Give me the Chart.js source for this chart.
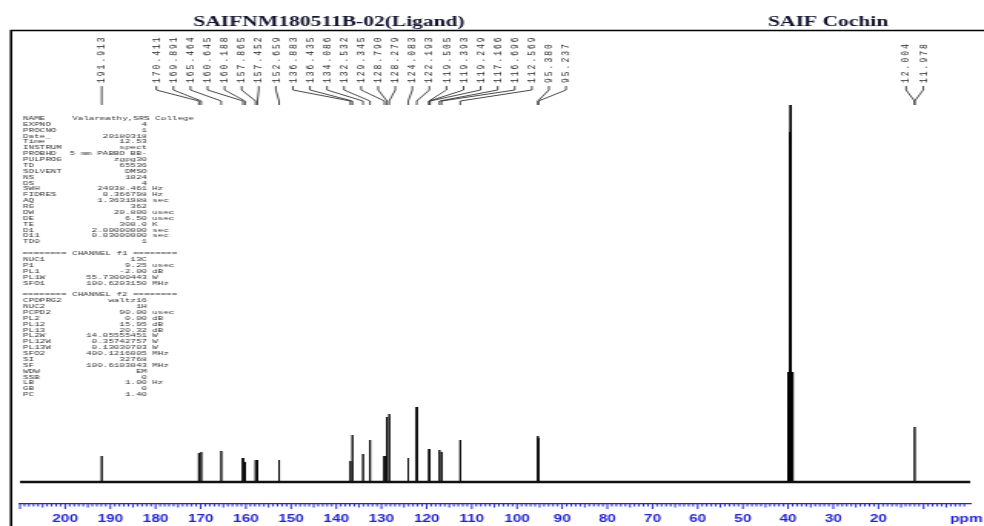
<!DOCTYPE html>
<html>
<head>
<meta charset="utf-8">
<title>SAIFNM180511B-02(Ligand)</title>
<script src="https://cdn.jsdelivr.net/npm/chart.js@4.4.1/dist/chart.umd.min.js"></script>
<style>
  html, body { margin: 0; padding: 0; background: #fff; }
  #spectrum { display: block; }
</style>
</head>
<body>
<!-- the plot is drawn at 640 wide and stretched to 984 like the original print -->
<canvas id="spectrum" width="640" height="526" style="width:984px;height:526px"></canvas>
<script>
// 13C peaks (ppm) and their heights above the baseline
const peakShifts = [191.913, 170.411, 169.891, 165.464, 160.645, 160.188, 157.865, 157.452, 152.659,
  136.883, 136.435, 134.086, 132.532, 129.345, 128.790, 128.279, 124.083, 122.193,
  119.505, 119.393, 119.249, 117.166, 116.696, 112.569, 95.380, 95.237, 12.004, 11.978];
const peakHeights = [26, 29, 30, 31, 24, 20, 22, 22, 22,
  21, 47, 28, 42, 26, 65, 68, 24, 75,
  33, 33, 32, 32, 30, 42, 46, 44, 55, 53];

// DMSO-d6 septet, not labelled
const solventShifts = [40.14, 39.93, 39.72, 39.51, 39.30, 39.09, 38.88];
const solventHeights = [38, 110, 350, 377, 350, 110, 38];

const axisLabels = [200, 190, 180, 170, 160, 150, 140, 130, 120, 110, 100, 90, 80, 70, 60, 50, 40, 30, 20];

const acqParams = [
  ['EXPNO', '4', ''],
  ['PROCNO', '1', ''],
  ['Date_', '20180318', ''],
  ['Time', '12.53', ''],
  ['INSTRUM', 'spect', ''],
  ['PROBHD', '5 mm PABBO BB-', ''],
  ['PULPROG', 'zgpg30', ''],
  ['TD', '65536', ''],
  ['SOLVENT', 'DMSO', ''],
  ['NS', '1024', ''],
  ['DS', '4', ''],
  ['SWH', '24038.461', 'Hz'],
  ['FIDRES', '0.366798', 'Hz'],
  ['AQ', '1.3631988', 'sec'],
  ['RG', '362', ''],
  ['DW', '20.800', 'usec'],
  ['DE', '6.50', 'usec'],
  ['TE', '300.0', 'K'],
  ['D1', '2.00000000', 'sec'],
  ['D11', '0.03000000', 'sec'],
  ['TD0', '1', ''],
  null,
  '======== CHANNEL f1 ========',
  ['NUC1', '13C', ''],
  ['P1', '9.25', 'usec'],
  ['PL1', '-2.00', 'dB'],
  ['PL1W', '55.73000443', 'W'],
  ['SFO1', '100.6203150', 'MHz'],
  null,
  '======== CHANNEL f2 ========',
  ['CPDPRG2', 'waltz16', ''],
  ['NUC2', '1H', ''],
  ['PCPD2', '90.00', 'usec'],
  ['PL2', '0.00', 'dB'],
  ['PL12', '15.95', 'dB'],
  ['PL13', '20.32', 'dB'],
  ['PL2W', '14.05555451', 'W'],
  ['PL12W', '0.35742757', 'W'],
  ['PL13W', '0.13030703', 'W'],
  ['SFO2', '400.1216005', 'MHz'],
  ['SI', '32768', ''],
  ['SF', '100.6103043', 'MHz'],
  ['WDW', 'EM', ''],
  ['SSB', '0', ''],
  ['LB', '1.00', 'Hz'],
  ['GB', '0', ''],
  ['PC', '1.40', '']
];

const axisBlue = '#2222dd';

// stick spectrum: every line goes up from the baseline and back down
function buildSpectrum() {
  let lines = [];
  peakShifts.forEach((p, i) => lines.push([p, peakHeights[i]]));
  solventShifts.forEach((p, i) => lines.push([p, solventHeights[i]]));
  lines.sort((a, b) => b[0] - a[0]);
  let pts = [{ x: 210, y: 0 }];
  lines.forEach(l => {
    pts.push({ x: l[0] + 0.02, y: 0 });
    pts.push({ x: l[0], y: l[1] });
    pts.push({ x: l[0] - 0.02, y: 0 });
  });
  pts.push({ x: -0.3, y: 0 });
  return pts;
}

// spread crowded labels out evenly, centred on their peaks
function spreadLabels(xs, gap) {
  let clusters = xs.map((x, i) => ({ items: [i], sum: x }));
  const start = c => c.sum / c.items.length - (c.items.length - 1) * gap / 2;
  let merged = true;
  while (merged) {
    merged = false;
    for (let i = 0; i < clusters.length - 1; i++) {
      const a = clusters[i], b = clusters[i + 1];
      if (start(a) + a.items.length * gap > start(b)) {
        clusters.splice(i, 2, { items: a.items.concat(b.items), sum: a.sum + b.sum });
        merged = true;
        break;
      }
    }
  }
  const slots = [];
  clusters.forEach(c => {
    const s = start(c);
    c.items.forEach((idx, k) => { slots[idx] = s + k * gap; });
  });
  return slots;
}

const decorations = {
  id: 'decorations',
  beforeDraw(chart) {
    const ctx = chart.ctx;
    ctx.save();
    // frame
    ctx.strokeStyle = '#000';
    ctx.lineWidth = 1.6;
    ctx.beginPath();
    ctx.moveTo(7.2, 526);
    ctx.lineTo(7.2, 30.5);
    ctx.lineTo(640, 30.5);
    ctx.stroke();

    // headings
    ctx.fillStyle = '#141432';
    ctx.font = 'bold 14px "Liberation Serif"';
    ctx.textBaseline = 'alphabetic';
    ctx.textAlign = 'center';
    ctx.fillText('SAIFNM180511B-02(Ligand)', 214, 26);
    ctx.textAlign = 'left';
    ctx.fillText('SAIF Cochin', 499.5, 26);

    // acquisition parameters
    ctx.fillStyle = '#333';
    ctx.font = '6px "Liberation Mono"';
    ctx.textBaseline = 'middle';
    ctx.textAlign = 'left';
    ctx.fillText('NAME', 15, 118.3);
    ctx.fillText('Valarmathy,SRS College', 47, 118.3);
    acqParams.forEach((row, i) => {
      const y = 118.3 + (i + 1) * 5.88;
      if (row === null) return;
      ctx.textAlign = 'left';
      if (typeof row === 'string') {
        ctx.fillText(row, 14.5, y);
        return;
      }
      ctx.fillText(row[0], 15, y);
      ctx.textAlign = 'right';
      ctx.fillText(row[1], 95.6, y);
      if (row[2]) {
        ctx.textAlign = 'left';
        ctx.fillText(row[2], 99, y);
      }
    });
    ctx.restore();
  },
  afterDraw(chart) {
    const ctx = chart.ctx;
    const xs = chart.scales.x;
    ctx.save();

    // minor / major ticks hanging below the axis line
    ctx.strokeStyle = axisBlue;
    ctx.lineWidth = 1;
    xs.ticks.forEach(t => {
      if (!Number.isInteger(t.value)) return;
      const px = xs.getPixelForValue(t.value);
      const len = t.value % 10 === 0 ? 5 : (t.value % 5 === 0 ? 3.5 : 2.5);
      ctx.beginPath();
      ctx.moveTo(px, xs.top);
      ctx.lineTo(px, xs.top + len);
      ctx.stroke();
    });
    ctx.fillStyle = axisBlue;
    ctx.font = 'bold 10px "Liberation Sans"';
    ctx.textAlign = 'left';
    ctx.textBaseline = 'alphabetic';
    ctx.fillText('ppm', 618, 522);

    // peak labels with leader lines
    const peakX = peakShifts.map(p => xs.getPixelForValue(p));
    const slots = spreadLabels(peakX, 11.1);
    ctx.strokeStyle = '#333';
    ctx.lineWidth = 0.9;
    ctx.fillStyle = '#2a2a2a';
    ctx.font = '8px "Liberation Mono"';
    ctx.letterSpacing = '2px';
    ctx.textAlign = 'left';
    ctx.textBaseline = 'middle';
    peakShifts.forEach((p, i) => {
      const lx = slots[i];
      ctx.beginPath();
      ctx.moveTo(lx, 86);
      ctx.lineTo(lx, 90);
      ctx.lineTo(peakX[i], 101);
      ctx.lineTo(peakX[i], 105);
      ctx.stroke();
      ctx.save();
      ctx.translate(lx, 83);
      ctx.rotate(-Math.PI / 2);
      ctx.fillText(p.toFixed(3), 0, 0);
      ctx.restore();
    });
    ctx.restore();
  }
};

new Chart(document.getElementById('spectrum'), {
  type: 'line',
  data: {
    datasets: [
      {
        label: 'baseline',
        data: [{ x: 210, y: 0 }, { x: -0.3, y: 0 }],
        borderColor: '#111',
        borderWidth: 2.6,
        pointRadius: 0
      },
      {
        label: '13C',
        data: buildSpectrum(),
        borderColor: '#000',
        borderWidth: 0.9,
        pointRadius: 0,
        tension: 0
      }
    ]
  },
  options: {
    responsive: false,
    devicePixelRatio: 1,
    animation: false,
    layout: { padding: { left: 13, right: 0, top: 100, bottom: 0 } },
    plugins: {
      legend: { display: false },
      tooltip: { enabled: false }
    },
    scales: {
      x: {
        type: 'linear',
        reverse: true,
        min: -0.3,
        max: 210,
        grid: { display: false, drawTicks: false },
        border: { display: true, color: axisBlue, width: 1.3 },
        ticks: {
          stepSize: 1,
          autoSkip: false,
          maxRotation: 0,
          minRotation: 0,
          padding: 9,
          color: axisBlue,
          font: { family: 'Liberation Sans', size: 10, weight: 'bold' },
          callback: v => axisLabels.includes(v) ? String(v) : ''
        },
        afterFit: s => { s.height = 22; }
      },
      y: { display: false, min: -22, max: 382 }
    }
  },
  plugins: [decorations]
});
</script>
</body>
</html>
